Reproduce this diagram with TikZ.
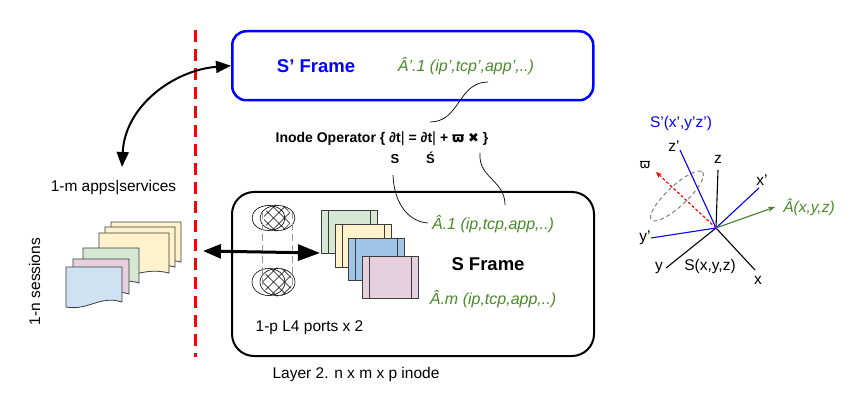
\documentclass[tikz,border=0pt]{standalone}
\usepackage{fontspec}
\setmainfont{Liberation Sans}
\newfontfamily\dv{DejaVu Sans}
\usetikzlibrary{arrows.meta}
\definecolor{sblue}{RGB}{0,0,255}
\definecolor{tgreen}{RGB}{72,140,40}
\definecolor{agreen}{RGB}{70,125,45}
\definecolor{docline}{RGB}{60,60,60}
\definecolor{dblue}{RGB}{207,226,243}
\definecolor{dpink}{RGB}{230,208,222}
\definecolor{dgreen}{RGB}{213,232,212}
\definecolor{dyellow}{RGB}{255,242,204}
\definecolor{fblue}{RGB}{160,197,232}
\definecolor{hatchgray}{RGB}{150,150,150}
\newcommand\docpage[5]{%
  \filldraw[fill=#5, draw=docline, line width=0.8pt]
    (#1,#2) -- (#1+#3,#2) -- (#1+#3,#2+#4-5)
    .. controls (#1+0.6*#3,#2+#4-12) and (#1+0.4*#3,#2+#4+4) .. (#1,#2+#4) -- cycle;}
\newcommand\procbox[5]{%
  \filldraw[fill=#5, draw=docline, line width=0.8pt] (#1,#2) rectangle (#1+#3,#2+#4);
  \draw[docline, line width=0.8pt] (#1+7,#2) -- (#1+7,#2+#4) (#1+#3-7,#2) -- (#1+#3-7,#2+#4);}
\newcommand\hatchell[4]{%
  \begin{scope}
    \clip (#1+4,#2) circle [radius=#4+1];
    \foreach \k in {-66,-55,...,66} {
      \draw[line width=0.55pt] (#1+\k-30,#2-30) -- (#1+\k+30,#2+30);
      \draw[line width=0.55pt] (#1+\k-30,#2+30) -- (#1+\k+30,#2-30);
    }
  \end{scope}
  \draw[line width=0.6pt] (#1-5,#2) ellipse [x radius=#3-5, y radius=#4];
  \draw[line width=0.6pt] (#1+4,#2) ellipse [x radius=#3-4, y radius=#4];}
\begin{document}
\begin{tikzpicture}[x=1pt,y=-1pt,
  lbl/.style={inner sep=0pt, font=\fontsize{15.5}{18}\selectfont},
  grn/.style={inner sep=0pt, text=tgreen, font=\fontsize{16}{19}\selectfont\itshape},
  ttl/.style={inner sep=0pt, font=\fontsize{18.5}{22}\selectfont\bfseries},
  opst/.style={inner sep=0pt, font=\fontsize{14}{16}\selectfont\bfseries},
  conn/.style={draw, line width=0.7pt},
  bigarrow/.style={line width=2pt, {Triangle[length=15pt,width=12pt]}-{Triangle[length=15pt,width=12pt]}},
  fatarrow/.style={line width=3pt, {Triangle[length=18pt,width=14pt]}-{Triangle[length=22pt,width=16pt]}},
  axisb/.style={draw=sblue, line width=1.1pt},
  axisk/.style={draw=black, line width=1.1pt}]
\useasboundingbox (0,0) rectangle (854,414);
\fill[white] (0,0) rectangle (854,414);

% red separator
\coordinate (redtop) at (195,30);
\coordinate (redbot) at (195,357);
\draw[red, line width=3pt, dash pattern=on 12pt off 7pt] (redtop) -- (redbot);

% frames
\node[draw=sblue, line width=2.5pt, rounded corners=14pt, minimum width=361pt, minimum height=69pt,
      inner sep=0pt, anchor=north west] (spf) at (231,30) {};
\node[draw=black, line width=2pt, rounded corners=22pt, minimum width=362pt, minimum height=164pt,
      inner sep=0pt, anchor=north west] (sf) at (231,191) {};

\node[ttl, text=sblue, anchor=base] (sptitle) at (316,73) {S’ Frame};
\node[grn, anchor=base] (spA) at (466,71.5) {Â’.1 (ip’,tcp’,app’,..)};

\node[opst, anchor=base] (opr) at (382,142.7) {Inode Operator \{ ∂t{\mdseries\fontsize{15}{16}\selectfont|} = ∂t{\mdseries\fontsize{15}{16}\selectfont|} + {\dv ϖ} {\dv\fontsize{13}{16}\selectfont ✖} \}};
\node[inner sep=0pt, font=\fontsize{13}{15}\selectfont\bfseries, anchor=base] (sS) at (395,164) {S};
\node[inner sep=0pt, font=\fontsize{13}{15}\selectfont\bfseries, anchor=base] (sSp) at (430.5,164) {Ś};

\node[grn, anchor=base] (sA1) at (493,229.3) {Â.1 (ip,tcp,app,..)};
\node[ttl, anchor=base] (stitle) at (488,270) {S Frame};
\node[grn, anchor=base] (sAm) at (493,304) {Â.m (ip,tcp,app,..)};
\node[lbl, anchor=base] (ports) at (309.5,331.7) {1-p L4 ports x 2};
\node[lbl, anchor=base] (layer) at (356,378) {Layer 2. n x m x p inode};
\node[lbl, anchor=base] (apps) at (113.5,191.5) {1-m apps|services};
\node[lbl, anchor=base, rotate=90] (sess) at (40,281.5) {1-n sessions};

% thin connectors
\coordinate (c1a) at (488,82);
\coordinate (c1b) at (430,122);
\draw[conn] (c1a) .. controls (458,82) and (460,122) .. (c1b);
\coordinate (c2a) at (393,175);
\coordinate (c2b) at (428,223);
\draw[conn] (c2a) .. controls (394,205) and (410,222) .. (c2b);
\coordinate (c3a) at (480,153);
\coordinate (c3b) at (505,205);
\draw[conn] (c3a) .. controls (478,178) and (505,180) .. (c3b);

% session documents
\docpage{111}{222}{70}{45}{dyellow}
\docpage{105}{227}{70}{45}{dyellow}
\docpage{99}{233}{70}{45}{dyellow}
\docpage{83}{248}{56}{40}{dgreen}
\docpage{73}{259}{56}{40}{dpink}
\docpage{66}{267}{56}{40}{dblue}

% ports (hatched ellipses)
\hatchell{273.5}{218}{21.5}{12.5}
\hatchell{273.5}{282}{21.5}{13.5}
\draw[hatchgray, line width=0.9pt, dash pattern=on 7pt off 4pt] (262,212) -- (262,290);
\draw[hatchgray, line width=0.9pt, dash pattern=on 7pt off 4pt] (292,212) -- (292,290);

% frame stack
\procbox{321}{210}{56}{43}{dgreen}
\procbox{335}{224}{56}{43}{dyellow}
\procbox{348}{238}{56}{42}{fblue}
\procbox{362}{256}{56}{42}{dpink}

% arrows
\coordinate (appsTip) at (122,167);
\draw[bigarrow] (appsTip) .. controls (125,105) and (175,70) .. (spf.west);
\coordinate (fatL) at (203,251);
\coordinate (fatR) at (320,253);
\draw[fatarrow] (fatL) -- (fatR);

% coordinate system
\coordinate (O) at (716,228);
\coordinate (zp) at (680,150);
\coordinate (xp) at (759,188);
\coordinate (yp) at (651,238);
\coordinate (z) at (718,170);
\coordinate (y) at (666,268);
\coordinate (x) at (755,270);
\coordinate (A) at (775,207);
\coordinate (w) at (656,172);
\draw[gray, line width=1pt, dash pattern=on 4pt off 3pt, rotate around={43:(677,196)}]
  (677,196) ellipse [x radius=35, y radius=10];
\draw[axisk] (O) -- (z);
\draw[axisk] (O) -- (y);
\draw[axisk] (O) -- (x);
\draw[axisb] (O) -- (zp);
\draw[axisb] (O) -- (xp);
\draw[axisb] (O) -- (yp);
\draw[agreen, line width=1.1pt, -{Stealth[length=7pt,width=5pt]}] (O) -- (A);
\draw[red, line width=1.1pt, dash pattern=on 3pt off 2pt, -{Stealth[length=6pt,width=5pt]}] (O) -- (w);

\node[lbl, text=sblue] (Sp) at (681,123) {S’(x’,y’z’)};
\node[lbl] (lzp) at (674,146) {z’};
\node[lbl] (lz) at (718,159) {z};
\node[lbl] (lxp) at (762,180) {x’};
\node[lbl] (lyp) at (645,238) {y’};
\node[lbl] (ly) at (659,268) {y};
\node[lbl] (lx) at (758,280) {x};
\node[lbl] (S) at (710,266) {S(x,y,z)};
\node[grn, font=\fontsize{15.5}{18}\selectfont\itshape] (lA) at (809,207) {Â(x,y,z)};
\node[inner sep=0pt, font=\dv\fontsize{13}{15}\selectfont] (lw) at (645,165) {ϖ};
\end{tikzpicture}
\end{document}
